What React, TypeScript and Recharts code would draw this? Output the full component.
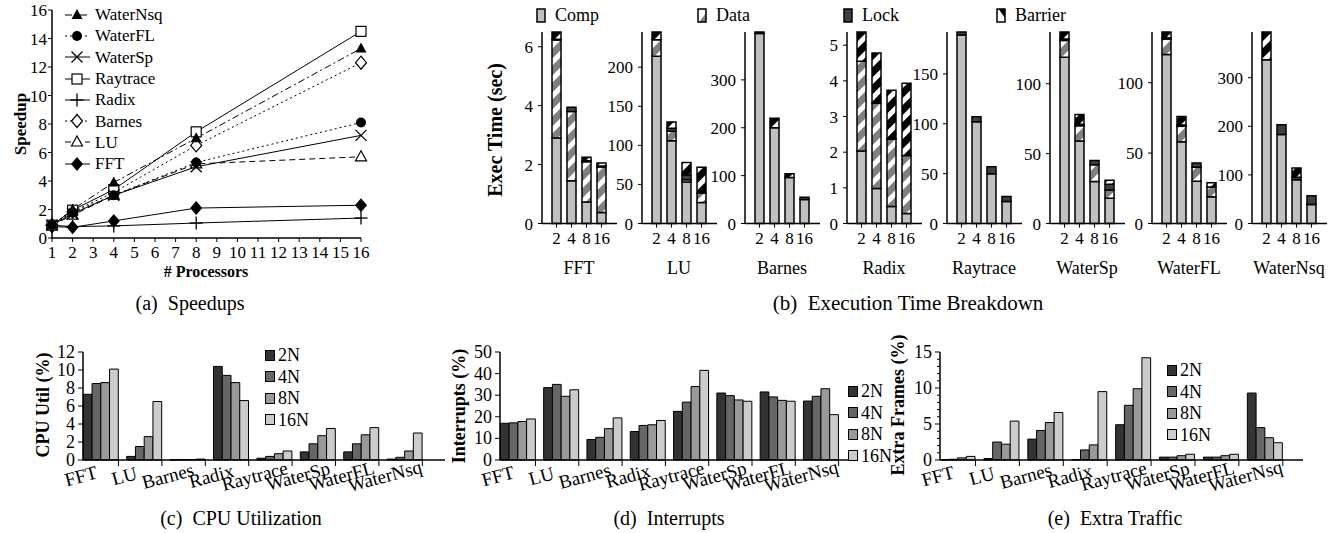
import React from "react";
import { LineChart, Line, BarChart, Bar, XAxis, YAxis } from "recharts";

const FONT = "'Liberation Serif', 'Times New Roman', Times, serif";

// (a) speedups
const processors = [1, 2, 4, 8, 16];
const processorTicks = [1, 2, 3, 4, 5, 6, 7, 8, 9, 10, 11, 12, 13, 14, 15, 16];
const speedupTicks = [0, 2, 4, 6, 8, 10, 12, 14, 16];
const speedupWaterNsq = [0.9, 2.0, 3.9, 7.0, 13.3];
const speedupWaterFL = [0.9, 1.8, 3.0, 5.3, 8.1];
const speedupWaterSp = [0.9, 1.7, 3.0, 5.0, 7.2];
const speedupRaytrace = [0.9, 1.95, 3.4, 7.45, 14.5];
const speedupRadix = [0.9, 0.8, 0.85, 1.05, 1.4];
const speedupBarnes = [0.9, 1.85, 3.2, 6.5, 12.3];
const speedupLU = [0.9, 1.6, 3.0, 5.2, 5.7];
const speedupFFT = [0.8, 0.75, 1.2, 2.1, 2.3];

// (b) execution time breakdown, one row per benchmark, columns = 2,4,8,16 nodes
const benchmarks = ["FFT", "LU", "Barnes", "Radix", "Raytrace", "WaterSp", "WaterFL", "WaterNsq"];
const nodeCounts = ["2", "4", "8", "16"];
const compTime = [
  [2.9, 1.45, 0.73, 0.37],
  [214, 106, 53, 27],
  [397, 200, 96, 50],
  [2.03, 0.98, 0.48, 0.28],
  [189, 102, 50, 22],
  [119, 59, 30, 18],
  [120, 58, 30, 19],
  [337, 183, 90, 39],
];
const dataTime = [
  [3.33, 2.35, 1.37, 1.55],
  [21, 12, 3, 12],
  [0, 0, 0, 0],
  [2.52, 2.39, 1.88, 1.63],
  [0, 0, 0, 0],
  [12, 11, 12, 6],
  [11, 11, 10, 7],
  [0, 0, 0, 0],
];
const lockTime = [
  [0.02, 0.15, 0.03, 0.03],
  [0, 4, 6, 0],
  [3, 0, 0, 5],
  [0, 0, 0, 0],
  [3, 5, 7, 5],
  [1, 1, 3, 4],
  [1, 1, 3, 0],
  [0, 20, 5, 18],
];
const barrierTime = [
  [0.25, 0, 0.12, 0.1],
  [10, 8, 16, 33],
  [0, 20, 8, 0],
  [0.82, 1.41, 1.38, 2.02],
  [0, 0, 0, 0],
  [5, 7, 0, 3],
  [4, 6, 0, 3],
  [57, 0, 19, 0],
];
const execTicks = [
  [0, 2, 4, 6],
  [0, 50, 100, 150, 200],
  [0, 100, 200, 300],
  [0, 1, 2, 3, 4, 5],
  [0, 50, 100, 150],
  [0, 50, 100],
  [0, 50, 100],
  [0, 100, 200, 300],
];

// (c) CPU utilization (%)
const cpu2N = [7.3, 0.4, 0.05, 10.4, 0.2, 0.9, 0.9, 0.1];
const cpu4N = [8.5, 1.5, 0.05, 9.4, 0.4, 1.8, 1.8, 0.3];
const cpu8N = [8.6, 2.6, 0.05, 8.6, 0.7, 2.7, 2.8, 1.0];
const cpu16N = [10.1, 6.5, 0.1, 6.6, 1.0, 3.5, 3.6, 3.0];
const cpuTicks = [0, 2, 4, 6, 8, 10, 12];

// (d) interrupts (%)
const irq2N = [17, 33.5, 9.5, 13.2, 22.5, 31, 31.5, 27.3];
const irq4N = [17.2, 35, 10.5, 16, 26.8, 29.8, 29.2, 29.5];
const irq8N = [17.8, 29.5, 14.5, 16.3, 34, 27.8, 27.6, 33];
const irq16N = [19, 32.5, 19.5, 18.3, 41.5, 27.2, 27.2, 21];
const irqTicks = [0, 10, 20, 30, 40, 50];

// (e) extra frames (%)
const extra2N = [0.05, 0.2, 2.9, 0.05, 4.9, 0.4, 0.4, 9.3];
const extra4N = [0.1, 2.5, 4.1, 1.4, 7.6, 0.4, 0.4, 4.5];
const extra8N = [0.3, 2.2, 5.2, 2.1, 9.9, 0.6, 0.6, 3.1];
const extra16N = [0.5, 5.4, 6.6, 9.5, 14.2, 0.8, 0.8, 2.4];
const extraTicks = [0, 1, 2, 3, 4, 5, 6, 7, 8, 9, 10, 11, 12, 13, 14, 15];

const nodeLabels = ["2N", "4N", "8N", "16N"];
const nodeFills = ["#333333", "#666666", "#999999", "#cccccc"];

const speedSeries = [
  { name: "WaterNsq", values: speedupWaterNsq, dash: "7 3 2 3", marker: "triangleFilled" },
  { name: "WaterFL", values: speedupWaterFL, dash: "2 3", marker: "circleFilled" },
  { name: "WaterSp", values: speedupWaterSp, dash: undefined, marker: "cross" },
  { name: "Raytrace", values: speedupRaytrace, dash: undefined, marker: "squareOpen" },
  { name: "Radix", values: speedupRadix, dash: undefined, marker: "plus" },
  { name: "Barnes", values: speedupBarnes, dash: "2 3", marker: "diamondOpen" },
  { name: "LU", values: speedupLU, dash: "6 4", marker: "triangleOpen" },
  { name: "FFT", values: speedupFFT, dash: undefined, marker: "diamondFilled" },
];

const speedRows = processors.map((p, i) => {
  const row: Record<string, number> = { p };
  speedSeries.forEach((s) => (row[s.name] = s.values[i]));
  return row;
});

const AXIS = { stroke: "#000", strokeWidth: 1.5 };
const TICK = { fill: "#000", fontSize: 17, fontFamily: FONT };

function SpeedMarker({ cx, cy, kind }: { cx: number; cy: number; kind: string }) {
  const k = "#000";
  switch (kind) {
    case "triangleFilled":
      return <polygon points={`${cx},${cy - 6} ${cx + 5.5},${cy + 4} ${cx - 5.5},${cy + 4}`} fill={k} />;
    case "triangleOpen":
      return (
        <polygon
          points={`${cx},${cy - 6} ${cx + 5.5},${cy + 4} ${cx - 5.5},${cy + 4}`}
          fill="#fff"
          stroke={k}
          strokeWidth={1.2}
        />
      );
    case "circleFilled":
      return <circle cx={cx} cy={cy} r={5} fill={k} />;
    case "cross":
      return (
        <g stroke={k} strokeWidth={1.3}>
          <line x1={cx - 5.5} y1={cy - 5.5} x2={cx + 5.5} y2={cy + 5.5} />
          <line x1={cx - 5.5} y1={cy + 5.5} x2={cx + 5.5} y2={cy - 5.5} />
        </g>
      );
    case "plus":
      return (
        <g stroke={k} strokeWidth={1.3}>
          <line x1={cx - 6.5} y1={cy} x2={cx + 6.5} y2={cy} />
          <line x1={cx} y1={cy - 6.5} x2={cx} y2={cy + 6.5} />
        </g>
      );
    case "squareOpen":
      return <rect x={cx - 5} y={cy - 5} width={10} height={10} fill="#fff" stroke={k} strokeWidth={1.2} />;
    case "diamondOpen":
      return (
        <polygon
          points={`${cx},${cy - 6.5} ${cx + 5.5},${cy} ${cx},${cy + 6.5} ${cx - 5.5},${cy}`}
          fill="#fff"
          stroke={k}
          strokeWidth={1.2}
        />
      );
    default:
      return <polygon points={`${cx},${cy - 7} ${cx + 6},${cy} ${cx},${cy + 7} ${cx - 6},${cy}`} fill={k} />;
  }
}

function Label({ x, y, text, size, bold, rotate }: { x: number; y: number; text: string; size: number; bold?: boolean; rotate?: boolean }) {
  return (
    <div
      style={{
        position: "absolute",
        left: x,
        top: y,
        transform: `translate(-50%, -50%)${rotate ? " rotate(-90deg)" : ""}`,
        fontSize: size,
        fontWeight: bold ? "bold" : "normal",
        whiteSpace: "pre",
        lineHeight: 1,
      }}
    >
      {text}
    </div>
  );
}

function SpeedupChart() {
  return (
    <>
      <div style={{ position: "absolute", left: 0, top: 0 }}>
        <LineChart width={380} height={280} data={speedRows} margin={{ top: 10, right: 19, bottom: 0, left: 0 }}>
          <XAxis
            dataKey="p"
            type="number"
            domain={[1, 16]}
            ticks={processorTicks}
            interval={0}
            height={42}
            tickSize={4}
            tickMargin={4}
            axisLine={AXIS}
            tickLine={{ stroke: "#000" }}
            tick={TICK}
          />
          <YAxis
            domain={[0, 16]}
            ticks={speedupTicks}
            width={52}
            tickSize={4}
            tickMargin={1}
            axisLine={AXIS}
            tickLine={{ stroke: "#000" }}
            tick={TICK}
          />
          {speedSeries
            .slice()
            .reverse()
            .map((s) => (
              <Line
                key={s.name}
                dataKey={s.name}
                stroke="#000"
                strokeWidth={1}
                strokeDasharray={s.dash}
                isAnimationActive={false}
                activeDot={false}
                dot={(p: any) => <SpeedMarker key={`${s.name}-${p.index}`} cx={p.cx} cy={p.cy} kind={s.marker} />}
              />
            ))}
        </LineChart>
      </div>
      <div style={{ position: "absolute", left: 63, top: 4 }}>
        {speedSeries.map((s) => (
          <div key={s.name} style={{ display: "flex", alignItems: "center", height: 21.3 }}>
            <svg width={30} height={16}>
              <line x1={2} x2={27} y1={8} y2={8} stroke="#000" strokeWidth={1} strokeDasharray={s.dash} />
              <SpeedMarker cx={14} cy={8} kind={s.marker} />
            </svg>
            <span style={{ fontSize: 17, marginLeft: 2, lineHeight: 1 }}>{s.name}</span>
          </div>
        ))}
      </div>
      <Label x={206} y={272} text="# Processors" size={16} bold />
      <Label x={20} y={124} text="Speedup" size={17} bold rotate />
      <Label x={190} y={303} text={"(a)  Speedups"} size={20} />
    </>
  );
}

const execAxisX = [542, 642, 745, 847, 947, 1050, 1152, 1252];

function ExecPatterns({ id }: { id: string }) {
  return (
    <defs>
      <pattern id={`data-${id}`} patternUnits="userSpaceOnUse" width={12} height={12} patternTransform="rotate(45)">
        <rect width={12} height={12} fill="#808080" />
        <rect width={5} height={12} fill="#fff" />
      </pattern>
      <pattern id={`barrier-${id}`} patternUnits="userSpaceOnUse" width={12} height={12} patternTransform="rotate(45)">
        <rect width={12} height={12} fill="#000" />
        <rect width={5} height={12} fill="#fff" />
      </pattern>
    </defs>
  );
}

function ExecChart({ index }: { index: number }) {
  const x0 = execAxisX[index];
  const rows = nodeCounts.map((n, j) => ({
    n,
    comp: compTime[index][j],
    data: dataTime[index][j],
    lock: lockTime[index][j],
    barrier: barrierTime[index][j],
  }));
  const max = Math.max(...rows.map((r) => r.comp + r.data + r.lock + r.barrier));
  const id = `e${index}`;
  const seg = { stackId: "t", stroke: "#000", strokeWidth: 1.5, barSize: 9, isAnimationActive: false };
  return (
    <>
      <div style={{ position: "absolute", left: x0 - 50, top: 0 }}>
        <BarChart width={135} height={285} data={rows} margin={{ top: 32, right: 10, bottom: 0, left: 0 }} barGap={0}>
          <ExecPatterns id={id} />
          <XAxis
            dataKey="n"
            height={61.5}
            padding={{ left: 7, right: 8 }}
            interval={0}
            tickSize={4}
            tickMargin={4}
            axisLine={AXIS}
            tickLine={{ stroke: "#000" }}
            tick={TICK}
          />
          <YAxis
            width={50}
            domain={[0, max]}
            ticks={execTicks[index]}
            interval={0}
            tickSize={4}
            tickMargin={5}
            axisLine={AXIS}
            tickLine={{ stroke: "#000" }}
            tick={TICK}
          />
          <Bar dataKey="comp" fill="#c0c0c0" {...seg} />
          <Bar dataKey="data" fill={`url(#data-${id})`} {...seg} />
          <Bar dataKey="lock" fill="#404040" {...seg} />
          <Bar dataKey="barrier" fill={`url(#barrier-${id})`} {...seg} />
        </BarChart>
      </div>
      <Label x={x0 + 37} y={268} text={benchmarks[index]} size={18} />
    </>
  );
}

function ExecLegendIcon({ kind }: { kind: string }) {
  const w = 8;
  const h = 13;
  return (
    <svg width={w + 2} height={h + 2} style={{ display: "block" }}>
      <g transform="translate(1,1)">
        <rect width={w} height={h} fill={kind === "comp" ? "#c0c0c0" : kind === "lock" ? "#404040" : "#fff"} />
        {kind === "data" && <polygon points={`${w},${h * 0.3} ${w},${h} ${w * 0.15},${h}`} fill="#808080" />}
        {kind === "barrier" && <polygon points={`${w * 0.2},0 ${w},0 ${w},${h * 0.7}`} fill="#000" />}
        <rect width={w} height={h} fill="none" stroke="#000" strokeWidth={1.5} />
      </g>
    </svg>
  );
}

const execLegend = [
  { kind: "comp", text: "Comp", x: 536 },
  { kind: "data", text: "Data", x: 697 },
  { kind: "lock", text: "Lock", x: 843 },
  { kind: "barrier", text: "Barrier", x: 996 },
];

function ExecPanel() {
  return (
    <>
      {execLegend.map((l) => (
        <div key={l.kind} style={{ position: "absolute", left: l.x, top: 6, display: "flex", alignItems: "center" }}>
          <ExecLegendIcon kind={l.kind} />
          <span style={{ fontSize: 18, marginLeft: 9, lineHeight: 1 }}>{l.text}</span>
        </div>
      ))}
      {benchmarks.map((b, i) => (
        <ExecChart key={b} index={i} />
      ))}
      <Label x={495} y={130} text="Exec Time (sec)" size={20} bold rotate />
      <Label x={908} y={303} text={"(b)  Execution Time Breakdown"} size={21} />
    </>
  );
}

const BW = 8.75;

function GroupTick({ x, y, value }: { x: number; y: number; value: string }) {
  return (
    <g>
      <line x1={x + 2 * BW} x2={x + 2 * BW} y1={y} y2={y + 6} stroke="#000" strokeWidth={1} />
      <text
        transform={`translate(${x - 20},${y + 16}) rotate(-15)`}
        textAnchor="middle"
        dominantBaseline="central"
        fontSize={19}
        fontFamily={FONT}
        fill="#000"
      >
        {value}
      </text>
    </g>
  );
}

function ValueTick({ x, y, value, labelEvery }: { x: number; y: number; value: number; labelEvery: number }) {
  const major = value % labelEvery === 0;
  return (
    <g>
      <line x1={x - (major ? 5 : 3)} x2={x} y1={y} y2={y} stroke="#000" strokeWidth={1} />
      {major && (
        <text x={x - 8} y={y} textAnchor="end" dominantBaseline="central" fontSize={18} fontFamily={FONT} fill="#000">
          {value}
        </text>
      )}
    </g>
  );
}

function GroupChart({
  series,
  axisX,
  axisEnd,
  pitch,
  domain,
  ticks,
  labelEvery,
}: {
  series: number[][];
  axisX: number;
  axisEnd: number;
  pitch: number;
  domain: [number, number];
  ticks: number[];
  labelEvery: number;
}) {
  const plotTop = 352;
  const plotBottom = 460;
  const yW = 60;
  const plotW = axisEnd - axisX;
  const padLeft = 0.5 + 2 * BW - pitch / 2;
  const padRight = plotW - benchmarks.length * pitch - padLeft;
  const rows = benchmarks.map((b, i) => {
    const row: Record<string, any> = { b };
    nodeLabels.forEach((n, k) => (row[n] = series[k][i]));
    return row;
  });
  return (
    <div style={{ position: "absolute", left: axisX - yW, top: plotTop - 10 }}>
      <BarChart
        width={yW + plotW + 5}
        height={plotBottom - plotTop + 50}
        data={rows}
        margin={{ top: 10, right: 5, bottom: 0, left: 0 }}
        barGap={0}
      >
        <XAxis
          dataKey="b"
          height={40}
          padding={{ left: padLeft, right: padRight }}
          interval={0}
          tickSize={0}
          tickMargin={0}
          tickLine={false}
          axisLine={AXIS}
          tick={(p: any) => <GroupTick key={p.index} x={p.x} y={p.y} value={p.payload.value} />}
        />
        <YAxis
          width={yW}
          domain={domain}
          ticks={ticks}
          interval={0}
          tickSize={0}
          tickMargin={0}
          tickLine={false}
          axisLine={AXIS}
          tick={(p: any) => <ValueTick key={p.index} x={p.x} y={p.y} value={p.payload.value} labelEvery={labelEvery} />}
        />
        {nodeLabels.map((n, k) => (
          <Bar key={n} dataKey={n} fill={nodeFills[k]} stroke="#000" strokeWidth={1} barSize={BW} isAnimationActive={false} />
        ))}
      </BarChart>
    </div>
  );
}

function NodeLegend({ x, y }: { x: number; y: number }) {
  return (
    <div style={{ position: "absolute", left: x, top: y - 10.75 }}>
      {nodeLabels.map((n, k) => (
        <div key={n} style={{ display: "flex", alignItems: "center", height: 21.5 }}>
          <div style={{ width: 8, height: 9, background: nodeFills[k], border: "1px solid #000" }} />
          <span style={{ fontSize: 18, marginLeft: 3, lineHeight: 1 }}>{n}</span>
        </div>
      ))}
    </div>
  );
}

export default function App() {
  return (
    <div
      style={{
        position: "absolute",
        left: 0,
        top: 0,
        width: 1339,
        height: 533,
        background: "#fff",
        fontFamily: FONT,
        color: "#000",
        overflow: "hidden",
      }}
    >
      <SpeedupChart />
      <ExecPanel />

      <GroupChart series={[cpu2N, cpu4N, cpu8N, cpu16N]} axisX={83} axisEnd={445} pitch={43.4} domain={[0, 12]} ticks={cpuTicks} labelEvery={2} />
      <NodeLegend x={265} y={355} />
      <Label x={43} y={405} text="CPU Util (%)" size={18} bold rotate />
      <Label x={241} y={518} text={"(c)  CPU Utilization"} size={20} />

      <GroupChart series={[irq2N, irq4N, irq8N, irq16N]} axisX={499.5} axisEnd={850} pitch={43.3} domain={[0, 50]} ticks={irqTicks} labelEvery={10} />
      <NodeLegend x={848} y={391} />
      <Label x={459} y={406} text="Interrupts (%)" size={18} bold rotate />
      <Label x={669} y={518} text={"(d)  Interrupts"} size={20} />

      <GroupChart series={[extra2N, extra4N, extra8N, extra16N]} axisX={940} axisEnd={1303} pitch={43.9} domain={[0, 15]} ticks={extraTicks} labelEvery={5} />
      <NodeLegend x={1167} y={370} />
      <Label x={898} y={405} text="Extra Frames (%)" size={18} bold rotate />
      <Label x={1115} y={518} text={"(e)  Extra Traffic"} size={20} />
    </div>
  );
}
